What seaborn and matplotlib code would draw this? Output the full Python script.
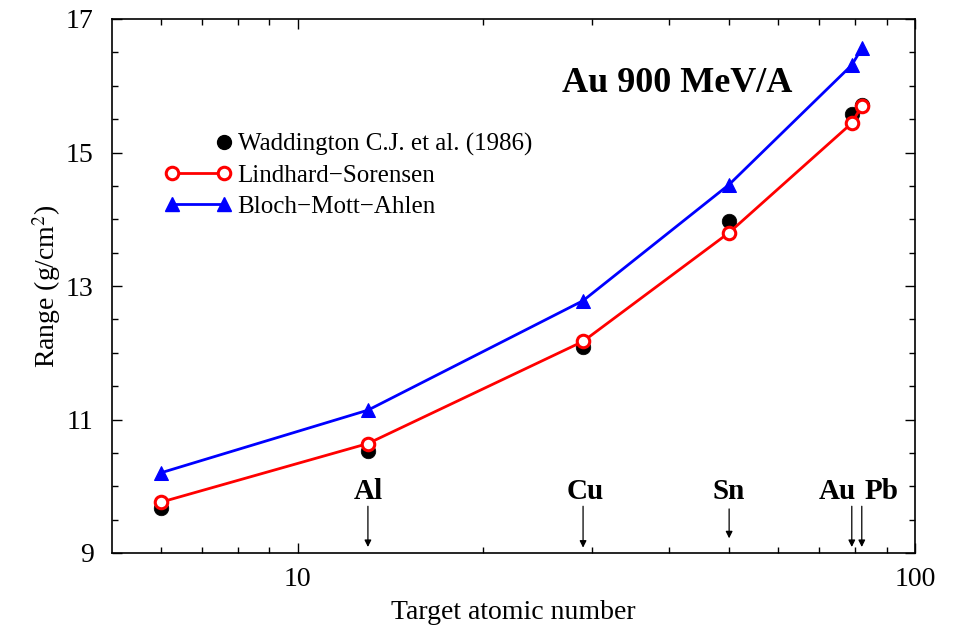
import numpy as np
import pandas as pd
import matplotlib
matplotlib.use("Agg")
import matplotlib.pyplot as plt
import seaborn as sns
from matplotlib.lines import Line2D
from matplotlib.legend_handler import HandlerLine2D
from matplotlib.ticker import FixedLocator, NullFormatter, MultipleLocator

# ---- data ----
z_target = [6, 13, 29, 50, 79, 82]
waddington = [9.67, 10.53, 12.09, 13.98, 15.58, 15.71]
lindhard = [9.76, 10.64, 12.17, 13.80, 15.44, 15.70]
bloch = [10.20, 11.14, 12.78, 14.52, 16.31, 16.56]
series_names = ["Waddington C.J. et al. (1986)", "Lindhard\u2212Sorensen", "Bloch\u2212Mott\u2212Ahlen"]
element_labels = ["Al", "Cu", "Sn", "Au", "Pb"]
element_z = [13, 29, 50, 79, 82]
title_text = "Au 900 MeV/A"

sns.set_theme(style="ticks")
plt.rcParams["font.family"] = ["Liberation Serif", "DejaVu Serif"]
plt.rcParams["mathtext.fontset"] = "stix"
for k in ["text.color", "axes.labelcolor", "xtick.color", "ytick.color", "axes.edgecolor"]:
    plt.rcParams[k] = "black"

df = pd.DataFrame({
    "Z": z_target * 3,
    "R": waddington + lindhard + bloch,
    "series": [series_names[0]] * 6 + [series_names[1]] * 6 + [series_names[2]] * 6,
})

fig = plt.figure(figsize=(9.59, 6.32), dpi=100)
ax = fig.add_axes([111.7 / 959, 1 - 553 / 632, (915 - 111.7) / 959, (553 - 19) / 632])

sns.scatterplot(data=df[df.series == series_names[0]], x="Z", y="R", ax=ax,
                color="black", s=110, edgecolor="black", linewidth=0.5, zorder=3, legend=False)
sns.lineplot(data=df[df.series == series_names[1]], x="Z", y="R", ax=ax,
             color="red", lw=2, marker="o", markersize=9, markerfacecolor="white",
             markeredgecolor="red", markeredgewidth=2.2, zorder=4, legend=False)
sns.lineplot(data=df[df.series == series_names[2]], x="Z", y="R", ax=ax,
             color="blue", lw=2, marker="^", markersize=10, markerfacecolor="blue",
             markeredgecolor="blue", zorder=2, legend=False)

ax.set_xscale("log")
ax.set_xlim(5, 100)
ax.set_ylim(9, 17)
ax.xaxis.set_major_locator(FixedLocator([10, 100]))
ax.set_xticklabels(["10", "100"])
ax.xaxis.set_minor_locator(FixedLocator([6, 7, 8, 9, 20, 30, 40, 50, 60, 70, 80, 90]))
ax.xaxis.set_minor_formatter(NullFormatter())
ax.yaxis.set_major_locator(FixedLocator([9, 11, 13, 15, 17]))
ax.yaxis.set_minor_locator(MultipleLocator(0.5))

ax.tick_params(which="both", direction="in", top=True, right=True, width=1, color="black")
ax.tick_params(which="major", length=7.2, labelsize=20)
ax.tick_params(which="minor", length=4.3)
ax.tick_params(axis="y", which="major", pad=13)
ax.tick_params(axis="x", which="major", pad=10)
for sp in ax.spines.values():
    sp.set_linewidth(1.2)
    sp.set_color("black")

ax.set_xlabel("Target atomic number", fontsize=20, labelpad=6)
ax.set_ylabel("Range (g/cm$^2$)", fontsize=20, labelpad=2)

ax.annotate(title_text, xy=(677, 632 - 84), xycoords="figure pixels", ha="center", va="center",
            fontsize=26, fontweight="bold")

# element arrows
label_dx = {"Al": 0, "Cu": 2, "Sn": 0, "Au": -14, "Pb": 20}
arrow_top = {"Al": 9.70, "Cu": 9.70, "Sn": 9.66, "Au": 9.70, "Pb": 9.70}
arrow_bot = {"Al": 9.09, "Cu": 9.08, "Sn": 9.22, "Au": 9.09, "Pb": 9.09}
for lab, z in zip(element_labels, element_z):
    ax.annotate("", xy=(z, arrow_bot[lab]), xytext=(z, arrow_top[lab]),
                arrowprops=dict(arrowstyle="-|>", color="black", lw=0.9, mutation_scale=10,
                                shrinkA=0, shrinkB=0))
    ax.annotate(lab, xy=(z, 9.92), xytext=(label_dx[lab], 0), textcoords="offset pixels",
                ha="center", va="center", fontsize=21, fontweight="bold")


class RightMarker(HandlerLine2D):
    def create_artists(self, legend, orig_handle, xdescent, ydescent, width, height, fontsize, trans):
        arts = super().create_artists(legend, orig_handle, xdescent, ydescent, width, height, fontsize, trans)
        for a in arts:
            n = len(a.get_xdata())
            a.set_markevery([n - 1])
        return arts


h0 = Line2D([], [], ls="none", marker="o", color="black", markersize=10)
h1 = Line2D([], [], color="red", lw=2, marker="o", markersize=9, markerfacecolor="white",
            markeredgecolor="red", markeredgewidth=2.2)
h2 = Line2D([], [], color="blue", lw=2, marker="^", markersize=10)
leg = ax.legend([h0, h1, h2], series_names, loc="upper left", bbox_to_anchor=(0.0655, 0.786),
                frameon=False, fontsize=18, numpoints=2, handlelength=2.68, handletextpad=0.25,
                labelspacing=0.33, borderaxespad=0, borderpad=0,
                handler_map={h0: RightMarker(numpoints=2)})

fig.savefig("out.png", dpi=100)
